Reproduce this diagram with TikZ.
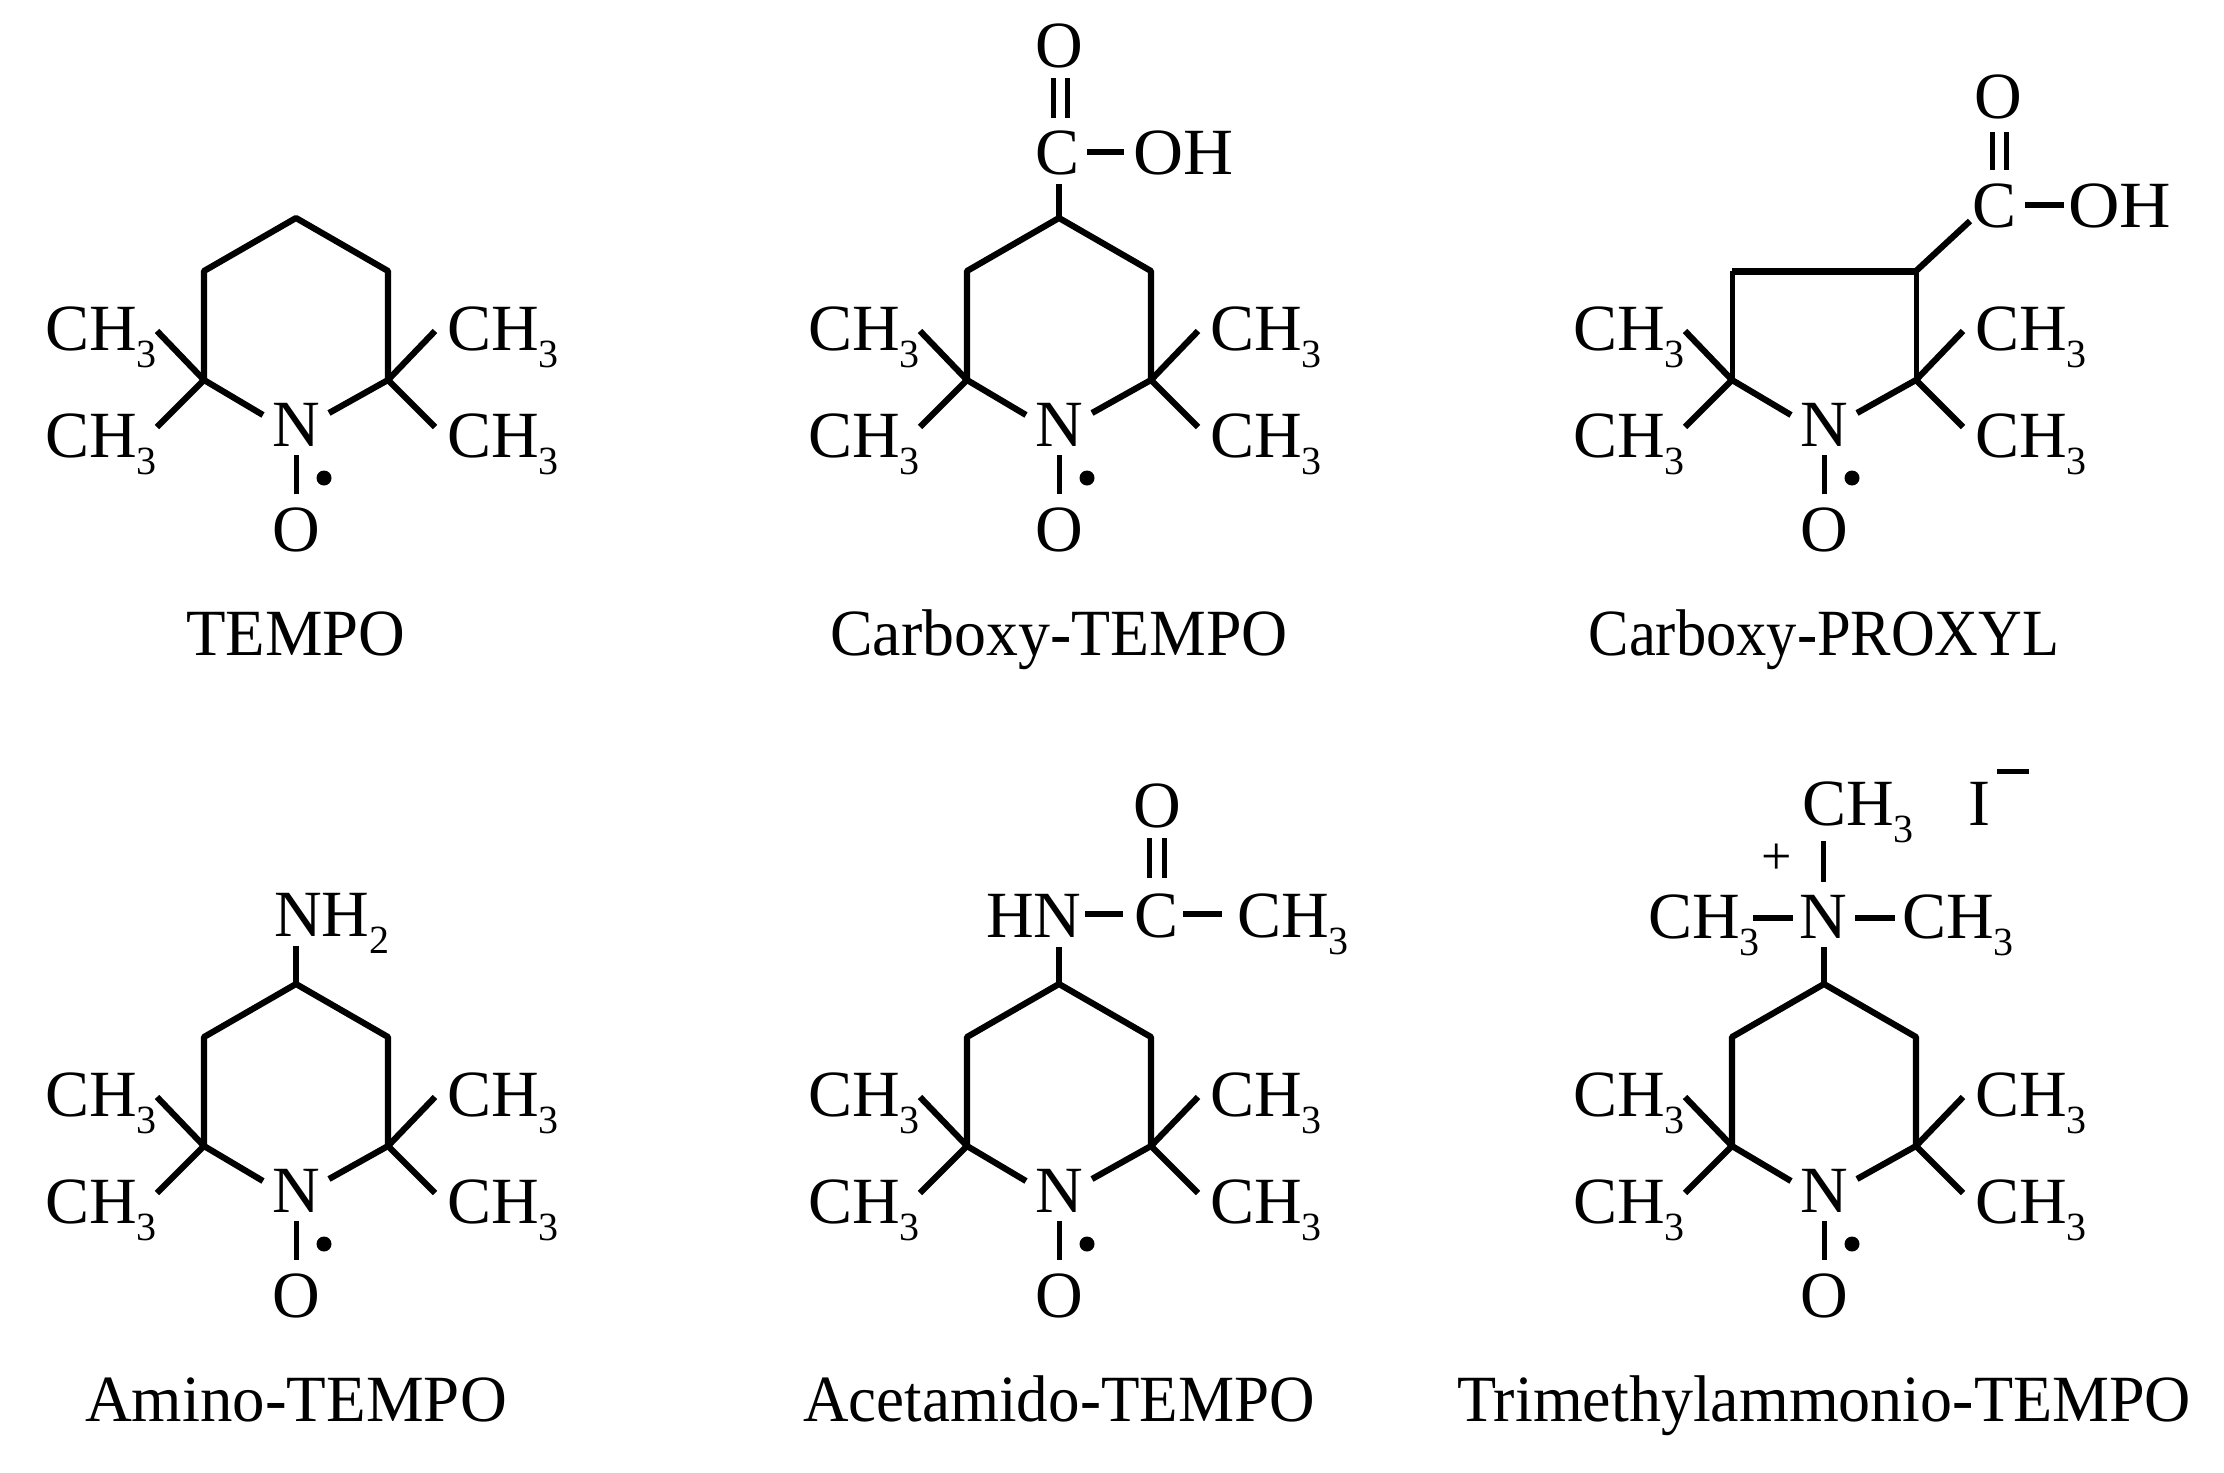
\documentclass[tikz,border=0pt]{standalone}
\usepackage{fontspec}
\setmainfont{Liberation Serif}
\newcommand{\chthree}{CH\raisebox{-17pt}{\fontsize{40}{40}\selectfont 3}}
\tikzset{
  bond/.style={line width=6.2pt,line cap=butt,line join=round,black},
  thinbond/.style={line width=5pt,line cap=butt,black},
  atom/.style={anchor=base west,inner sep=0pt,font=\fontsize{66}{70}\selectfont},
  catom/.style={anchor=base,inner sep=0pt,font=\fontsize{66}{70}\selectfont},
  compound/.style={anchor=base,inner sep=0pt,font=\fontsize{66}{70}\selectfont},
  radical/.style={circle,fill=black,inner sep=0pt,minimum size=15pt},
}
\newcommand{\nitroxide}[2]{%
  \coordinate (c2) at (-92,380);
  \coordinate (c6) at (92,380);
  \coordinate (nl) at (-33,415);
  \coordinate (nr) at (33,413);
  \coordinate (m1) at (-139,331);
  \coordinate (m2) at (-139,427);
  \coordinate (m3) at (139,331);
  \coordinate (m4) at (139,427);
  \coordinate (no1) at (0,455);
  \coordinate (no2) at (0,494);
  \node[atom] (me1) at (-251,350) {\chthree};
  \node[atom] (me2) at (-251,457) {\chthree};
  \node[atom] (me3) at (151,350) {\chthree};
  \node[atom] (me4) at (151,457) {\chthree};
  \node[catom] (N) at (0,446) {N};
  \node[catom] (O) at (0,551) {O};
  \node[radical] (dot) at (28,478) {};
  \draw[bond] (m1) -- (c2) -- (m2);
  \draw[bond] (m3) -- (c6) -- (m4);
  \draw[bond] (c2) -- (nl);
  \draw[bond] (c6) -- (nr);
  \draw[thinbond] (no1) -- (no2);
  \node[compound] (name) at (0,655) {\scalebox{#1}[1]{#2}};
}
\newcommand{\sixring}{%
  \coordinate (c3) at (-92,271);
  \coordinate (c4) at (0,218);
  \coordinate (c5) at (92,271);
  \draw[bond] (c2) -- (c3) -- (c4) -- (c5) -- (c6);
}
\begin{document}
\begin{tikzpicture}[x=1pt,y=-1pt]
\useasboundingbox (0,0) rectangle (2224,1472);
\fill[white] (0,0) rectangle (2224,1472);
% TEMPO
\begin{scope}[shift={(296,0)},name prefix=a-]
  \nitroxide{0.98}{TEMPO}\sixring
\end{scope}
% Carboxy-TEMPO
\begin{scope}[shift={(1059,0)},name prefix=b-]
  \nitroxide{0.967}{Carboxy-TEMPO}\sixring
  \node[catom] (C) at (-2,174) {C};
  \node[catom] (Ot) at (0,67) {O};
  \node[atom] (OH) at (74,174) {\scalebox{1.05}[1]{OH}};
  \coordinate (cb) at (0,184);
  \draw[bond] (c4) -- (cb);
  \draw[thinbond] (-6,78) -- (-6,118);
  \draw[thinbond] (8,78) -- (8,118);
  \draw[bond] (28,152) -- (65,152);
\end{scope}
% Carboxy-PROXYL
\begin{scope}[shift={(1824,0)},name prefix=c-]
  \nitroxide{0.917}{Carboxy-PROXYL}
  \coordinate (c3) at (-92,271);
  \coordinate (c4) at (92,271);
  \coordinate (ce) at (146,221);
  \draw[thinbond] (c2) -- (c3);
  \draw[thinbond] (c4) -- (c6);
  \draw[line width=7pt] (c3) -- (c4);
  \draw[bond] (c4) -- (ce);
  \node[catom] (C) at (170,227) {C};
  \node[catom] (Ot) at (174,118) {O};
  \node[atom] (OH) at (244,227) {\scalebox{1.08}[1]{OH}};
  \draw[thinbond] (168,132) -- (168,170);
  \draw[thinbond] (182,132) -- (182,170);
  \draw[bond] (201,205) -- (240,205);
\end{scope}
% Amino-TEMPO
\begin{scope}[shift={(296,766)},name prefix=d-]
  \nitroxide{0.983}{Amino-TEMPO}\sixring
  \node[atom] (NH) at (-22,170) {NH\raisebox{-17pt}{\fontsize{40}{40}\selectfont 2}};
  \coordinate (nb) at (0,180);
  \draw[bond] (c4) -- (nb);
\end{scope}
% Acetamido-TEMPO
\begin{scope}[shift={(1059,766)},name prefix=e-]
  \nitroxide{0.955}{Acetamido-TEMPO}\sixring
  \node[atom] (HN) at (-73,171) {HN};
  \node[atom] (C) at (75,171) {C};
  \node[catom] (Ot) at (98,61) {O};
  \node[atom] (Me) at (178,171) {\chthree};
  \coordinate (nb) at (0,181);
  \draw[bond] (c4) -- (nb);
  \draw[bond] (26,148) -- (64,148);
  \draw[bond] (124,148) -- (163,148);
  \draw[thinbond] (90,72) -- (90,112);
  \draw[thinbond] (105,72) -- (105,112);
\end{scope}
% Trimethylammonio-TEMPO
\begin{scope}[shift={(1824,766)},name prefix=f-]
  \nitroxide{0.97}{Trimethylammonio-TEMPO}\sixring
  \node[atom] (M1) at (-22,59) {\chthree};
  \node[atom] (I) at (144,59) {I};
  \node[atom] (M2) at (-176,172) {\chthree};
  \node[catom] (Np) at (-1,172) {N};
  \node[atom] (M3) at (78,172) {\chthree};
  \node[inner sep=0pt,font=\fontsize{54}{54}\selectfont] (plus) at (-47,93) {+};
  \coordinate (nb) at (0,181);
  \draw[bond] (c4) -- (nb);
  \draw[thinbond] (-1,75) -- (-1,116);
  \draw[bond] (-71,152) -- (-31,152);
  \draw[bond] (31,152) -- (71,152);
  \draw[thinbond] (173,5) -- (205,5);
\end{scope}
\end{tikzpicture}
\end{document}
